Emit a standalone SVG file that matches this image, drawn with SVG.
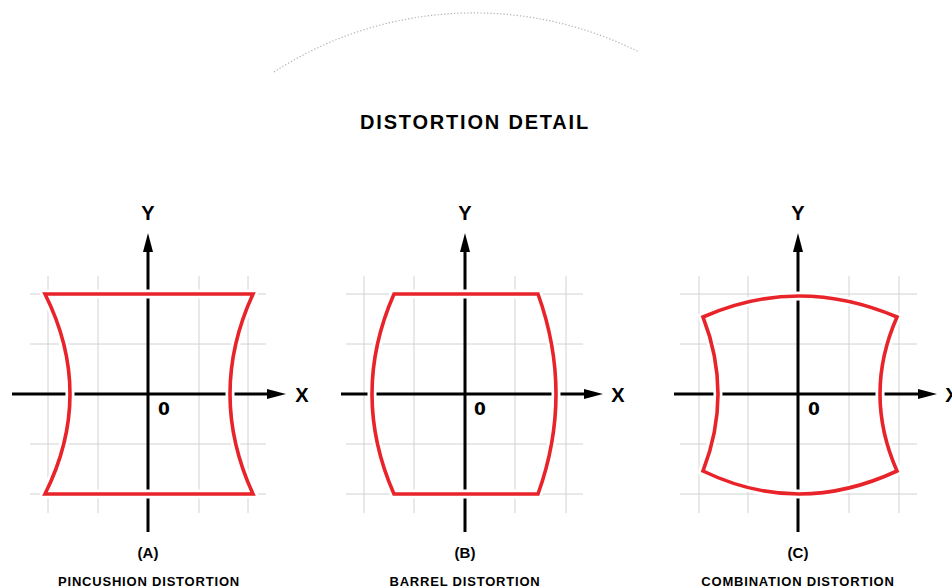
<svg xmlns="http://www.w3.org/2000/svg" width="952" height="587" viewBox="0 0 952 587">
<defs>
<style>
.grid{stroke:#d2d2d2;stroke-width:1;fill:none}
.axis{stroke:#000;stroke-width:3;fill:none}
.head{fill:#000}
.halo{stroke:#fff;stroke-width:9;fill:none;stroke-linejoin:miter}
.shape{stroke:#e8242a;stroke-width:3.6;fill:none;stroke-linejoin:miter}
.lbl{font-family:"Liberation Sans",Arial,sans-serif;font-weight:bold;fill:#000;text-anchor:middle}
.ax{font-size:20px}
.zero{font-family:"DejaVu Sans","Liberation Sans",sans-serif;font-size:17px}
.cap{font-size:15px}
.sub{font-size:13px;letter-spacing:0.8px}
.title{font-size:20px;letter-spacing:1.8px}
</style>
</defs>
<rect width="952" height="587" fill="#fff"/>
<path d="M 274 72 A 368 368 0 0 1 639 52" fill="none" stroke="#b4b4b4" stroke-width="1.2" stroke-dasharray="1.3 2"/>
<text class="lbl title" x="475" y="129">DISTORTION DETAIL</text>

<g id="panel-a">
<path class="grid" d="M48 276V513M98 276V513M199 276V513M248 276V513M30 294H266M30 344H266M30 444H266M30 494H266"/>
<path class="axis" d="M148 532V250M12 394H269"/>
<polygon class="head" points="148,233 143,252 153,252"/>
<polygon class="head" points="286,394 267,389 267,399"/>
<path class="halo" d="M45 294H253Q207 394 253 494H45Q95 394 45 294Z"/>
<path class="shape" d="M45 294H253Q207 394 253 494H45Q95 394 45 294Z"/>
<text class="lbl ax" x="148" y="220">Y</text>
<text class="lbl ax" x="302" y="402">X</text>
<text class="lbl zero" x="164" y="415">0</text>
<text class="lbl cap" x="148" y="558">(A)</text>
<text class="lbl sub" x="149" y="586">PINCUSHION DISTORTION</text>
</g>

<g id="panel-b">
<path class="grid" d="M364 276V513M414 276V513M515 276V513M566 276V513M346 294H583M346 344H583M346 444H583M346 494H583"/>
<path class="axis" d="M465 532V250M341 394H586"/>
<polygon class="head" points="465,233 460,252 470,252"/>
<polygon class="head" points="603,394 584,389 584,399"/>
<path class="halo" d="M394 294H538Q574 394 538 494H394Q350 394 394 294Z"/>
<path class="shape" d="M394 294H538Q574 394 538 494H394Q350 394 394 294Z"/>
<text class="lbl ax" x="465" y="220">Y</text>
<text class="lbl ax" x="618" y="402">X</text>
<text class="lbl zero" x="480" y="415">0</text>
<text class="lbl cap" x="465" y="558">(B)</text>
<text class="lbl sub" x="465" y="586">BARREL DISTORTION</text>
</g>

<g id="panel-c">
<path class="grid" d="M699 276V513M748 276V513M849 276V513M899 276V513M680 294H917M680 344H917M680 444H917M680 494H917"/>
<path class="axis" d="M798 532V250M674 394H920"/>
<polygon class="head" points="798,233 793,252 803,252"/>
<polygon class="head" points="937,394 918,389 918,399"/>
<path class="halo" d="M703 317Q798 275 897 317Q863 394 897 471Q798 517 703 471Q733 394 703 317Z"/>
<path class="shape" d="M703 317Q798 275 897 317Q863 394 897 471Q798 517 703 471Q733 394 703 317Z"/>
<text class="lbl ax" x="798" y="220">Y</text>
<text class="lbl ax" x="952" y="402">X</text>
<text class="lbl zero" x="814" y="415">0</text>
<text class="lbl cap" x="798" y="558">(C)</text>
<text class="lbl sub" x="798" y="586">COMBINATION DISTORTION</text>
</g>
</svg>
